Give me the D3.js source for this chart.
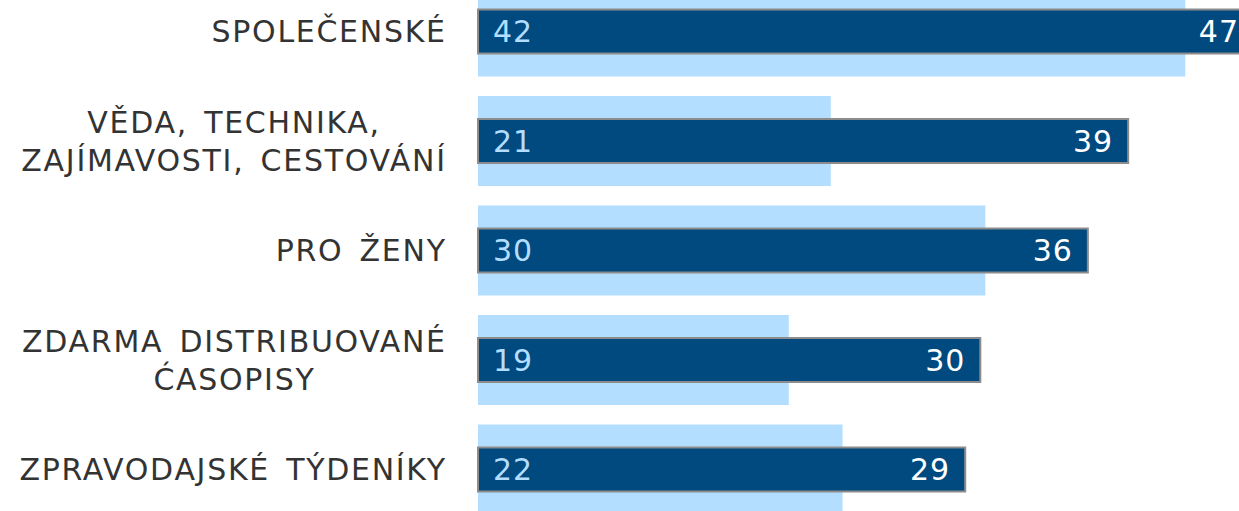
<!DOCTYPE html>
<html><head><meta charset="utf-8">
<script src="https://cdn.jsdelivr.net/npm/d3@7"></script>
<style>html,body{margin:0;padding:0;background:#fff;overflow:hidden}</style>
</head><body><svg id="c" width="1239" height="511"></svg>
<script>
const categories = [["SPOLEČENSKÉ"],["VĚDA, TECHNIKA,","ZAJÍMAVOSTI, CESTOVÁNÍ"],["PRO ŽENY"],["ZDARMA DISTRIBUOVANÉ","ĆASOPISY"],["ZPRAVODAJSKÉ TÝDENÍKY"]];
const lightValues = [42.1, 21.0, 30.2, 18.5, 21.7];
const darkValues = [47.2, 38.7, 36.3, 29.9, 29.0];
const lightLabels = ["42","21","30","19","22"];
const darkLabels = ["47","39","36","30","29"];

const W = 1239;
const svg = d3.select("#c");
const x = d3.scaleLinear().domain([0, 1]).range([478, 478 + 16.8]);
const y = d3.scaleBand().domain(d3.range(categories.length)).range([-23.25, 524.25]).padding(0);
const font = "'DejaVu Sans', Verdana, sans-serif";
const cy = i => y(i) + y.bandwidth()/2;

const rows = svg.append("g").selectAll("g.row").data(categories).join("g").attr("class","row");

rows.append("rect")
  .attr("x", x(0)).attr("y", (d,i)=> cy(i) - 45)
  .attr("width", (d,i)=> x(lightValues[i]) - x(0)).attr("height", 90)
  .attr("fill", "#b3deff");

rows.append("rect")
  .attr("x", x(0)).attr("y", (d,i)=> cy(i) - 22)
  .attr("width", (d,i)=> x(darkValues[i]) - x(0)).attr("height", 44)
  .attr("fill", "#004a7f").attr("stroke", "#8c8c8c").attr("stroke-width", 2);

rows.append("text")
  .attr("x", x(0) + 15).attr("y", (d,i)=> cy(i))
  .attr("dy", "0.36em").attr("font-family", font).attr("font-size", 30)
  .attr("letter-spacing", 1)
  .attr("fill", "#b3deff").text((d,i)=> lightLabels[i]);

rows.append("text")
  .attr("x", (d,i)=> Math.min(x(darkValues[i]) - 15, W))
  .attr("y", (d,i)=> cy(i))
  .attr("dy", "0.36em").attr("text-anchor","end").attr("font-family", font).attr("font-size", 30)
  .attr("letter-spacing", 1)
  .attr("fill", "#ffffff").text((d,i)=> darkLabels[i]);

const LS = 1.7, right = 445, lh = 37.5;
rows.each(function(d,i){
  const g = d3.select(this);
  const n = d.length;
  const texts = d.map((line,k)=> g.append("text")
    .attr("font-family", font).attr("font-size", 30).attr("fill","#333333")
    .attr("letter-spacing", LS).attr("word-spacing", 5)
    .attr("y", cy(i) + (k - (n-1)/2)*lh).attr("dy","0.36em").text(line));
  const widths = texts.map(t => t.node().getComputedTextLength() - LS);
  const maxW = d3.max(widths);
  texts.forEach((t,k)=> t.attr("x", right - maxW/2 - widths[k]/2));
});
</script></body></html>
